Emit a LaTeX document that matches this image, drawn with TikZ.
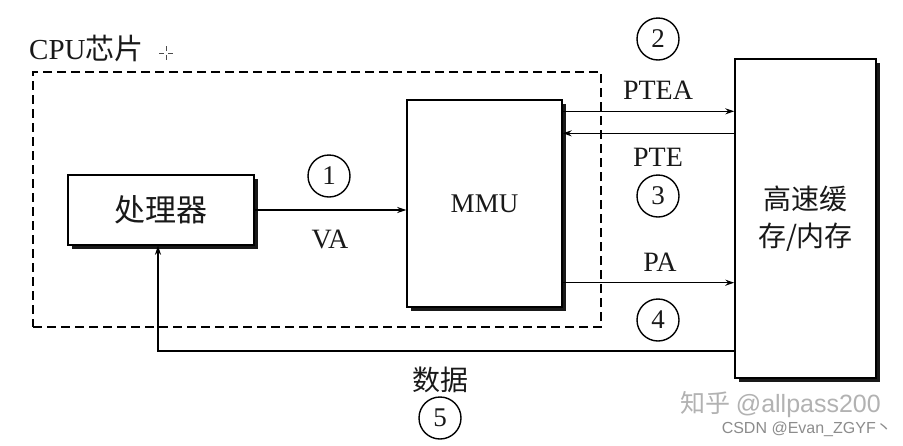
\documentclass[tikz,border=0pt]{standalone}
\usepackage{fontspec}
\setmainfont{Liberation Serif}
\newfontfamily\cjk{Noto Sans CJK SC}
\newfontfamily\wmfont{Liberation Sans}
\usetikzlibrary{arrows.meta,shadows,calc}
\begin{document}
\begin{tikzpicture}[x=1pt,y=-1pt,
  every node/.style={inner sep=0pt, text=black!90},
  blk/.style={draw, line width=1.4pt, fill=white, minimum width=#1},
  blkshadow/.style={drop shadow={shadow xshift=3.5pt, shadow yshift=-3.5pt, fill=black!90, opacity=1}},
  conn/.style={line width=1.4pt, -{Stealth[length=9pt,width=6pt]}},
  num/.style={draw, circle, line width=1.4pt, minimum size=42pt, font=\fontsize{27}{27}\selectfont},
  lbl/.style={font=\fontsize{28}{28}\selectfont},
  cjklbl/.style={font=\cjk\fontsize{28}{28}\selectfont},
  wm/.style={text=black!30}
]
\useasboundingbox (0,0) rectangle (903,445);
\fill[white] (0,0) rectangle (903,445);

% CPU chip dashed region
\node[draw, line width=1.9pt, dash pattern=on 9pt off 5pt, minimum width=568pt, minimum height=255pt] (cpu) at (317,199.5) {};
\node[anchor=west, font=\fontsize{29}{29}\selectfont] (cpulbl) at (29,48) {CPU{\cjk 芯片}};
% small cursor mark
\coordinate (cm) at (166,53);
\draw[line width=0.8pt, black!70] ($(cm)+(-7,0)$) -- ($(cm)+(-2,0)$) ($(cm)+(2,0)$) -- ($(cm)+(7,0)$)
  ($(cm)+(0,-7)$) -- ($(cm)+(0,-2)$) ($(cm)+(0,2)$) -- ($(cm)+(0,7)$);

% boxes
\node[blk=186pt, blkshadow, minimum height=70pt, font=\cjk\fontsize{31}{31}\selectfont] (proc) at (161,210) {处理器};
\node[blk=155pt, blkshadow, minimum height=207pt, font=\fontsize{27}{27}\selectfont] (mmu) at (484.5,203.5) {MMU};
\node[blk=141pt, blkshadow, minimum height=319pt, font=\cjk\fontsize{28}{28}\selectfont, align=center] (cache) at (805.5,218.5) {高速缓\\[9pt]存/内存};

% VA
\draw[conn] (proc.east) -- (proc.east -| mmu.west);
\node[num] (n1) at (329,176) {1};
\node[lbl] (va) at (330,239) {VA};

% PTEA / PTE
\coordinate (ptea) at ($(mmu.north east)+(0,12)$);
\coordinate (pte) at ($(mmu.north east)+(0,34)$);
\draw[conn] (ptea) -- (ptea -| cache.west);
\draw[conn] (pte -| cache.west) -- (pte);
\node[num] (n2) at (658,39) {2};
\node[lbl] (ptealbl) at (658,90) {PTEA};
\node[lbl] (ptelbl) at (658,157) {PTE};
\node[num] (n3) at (658,196) {3};

% PA
\coordinate (pa) at ($(mmu.south east)+(0,-25)$);
\draw[conn] (pa) -- (pa -| cache.west);
\node[lbl] (palbl) at (660,262) {PA};
\node[num] (n4) at (658,320) {4};

% data return
\coordinate (dcorner) at (158,351);
\draw[conn] (cache.west |- dcorner) -- (dcorner) -- (dcorner |- proc.south);
\node[cjklbl] (datalbl) at (440,380) {数据};
\node[num] (n5) at (440,418) {5};

% watermarks
\node[wm, anchor=east, font=\cjk\fontsize{25}{25}\selectfont] (wm1) at (881,405) {知乎 {\wmfont @allpass200}};
\node[wm, anchor=east, text=black!45, font=\wmfont\fontsize{16}{16}\selectfont] (wm2) at (892,429) {CSDN @Evan\_ZGYF{\cjk 丶}};
\end{tikzpicture}
\end{document}
